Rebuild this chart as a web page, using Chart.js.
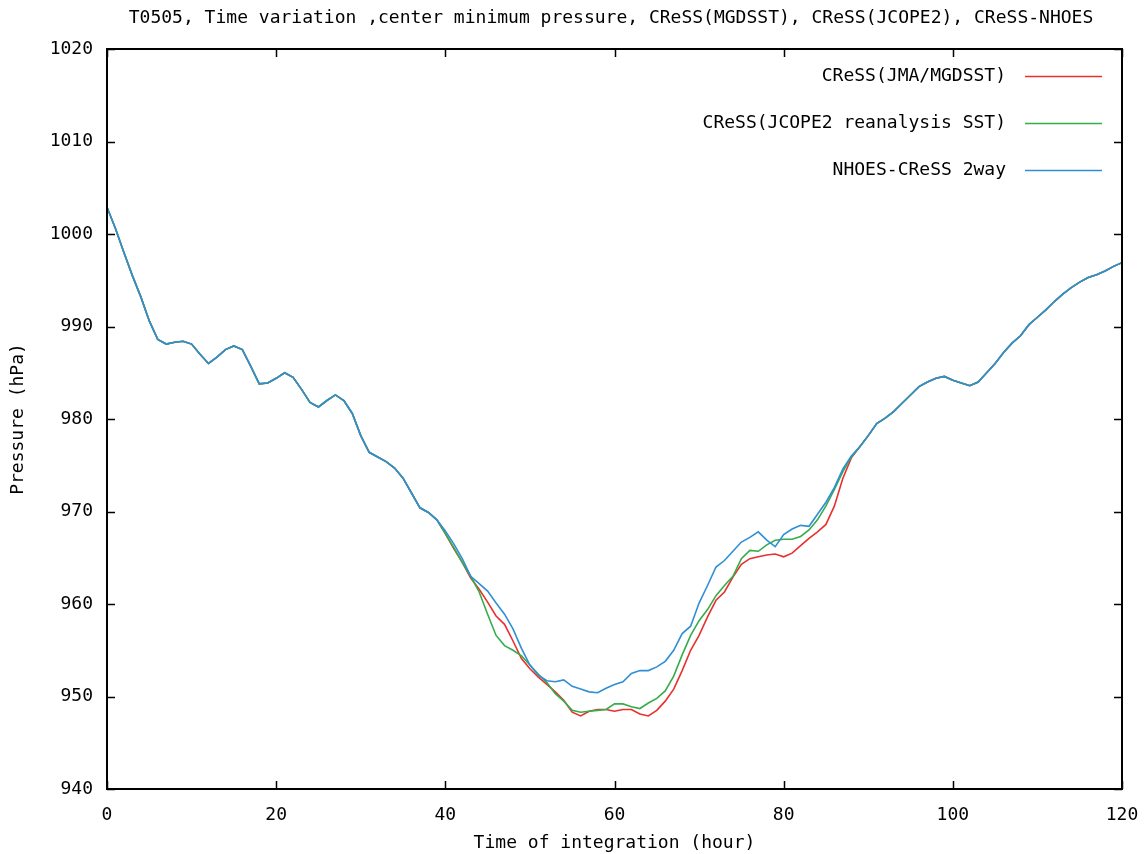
<!DOCTYPE html>
<html>
<head>
<meta charset="utf-8">
<script src="https://cdn.jsdelivr.net/npm/chart.js@4"></script>
<style>
  html, body { margin: 0; padding: 0; background: #fff; }
  #wrap { width: 1148px; height: 854px; }
</style>
</head>
<body>
<div id="wrap"><canvas id="chart"></canvas></div>
<script>
const chartTitle = 'T0505, Time variation ,center minimum pressure, CReSS(MGDSST), CReSS(JCOPE2), CReSS-NHOES';
const seriesLabels = ['CReSS(JMA/MGDSST)', 'CReSS(JCOPE2 reanalysis SST)', 'NHOES-CReSS 2way'];
const xTicks = [0, 20, 40, 60, 80, 100, 120];
const yTicks = [940, 950, 960, 970, 980, 990, 1000, 1010, 1020];

// hours 0..120
const hours = [];
for (let h = 0; h <= 120; h++) hours.push(h);

// shared part, hours 0..39 (all three runs overlap)
const common0 = [
  1002.9, 1000.6, 998.0, 995.5, 993.2, 990.6, 988.6, 988.1, 988.3, 988.4,
  988.1, 987.0, 986.0, 986.7, 987.5, 987.9, 987.5, 985.7, 983.8, 983.9,
  984.4, 985.0, 984.5, 983.2, 981.8, 981.3, 982.0, 982.6, 982.0, 980.6,
  978.2, 976.4, 975.9, 975.4, 974.7, 973.6, 972.0, 970.4, 969.9, 969.1
];
// shared part, hours 89..120
const common1 = [
  977.0, 978.2, 979.5, 980.1, 980.8, 981.7, 982.6, 983.5, 984.0, 984.4,
  984.6, 984.2, 983.9, 983.6, 984.0, 985.0, 986.0, 987.2, 988.2, 989.0,
  990.2, 991.0, 991.8, 992.7, 993.5, 994.2, 994.8, 995.3, 995.6, 996.0,
  996.5, 996.9
];

// hours 40..88
const mgdsstMid = [
  967.6, 966.0, 964.5, 962.8, 961.6, 960.2, 958.7, 957.8, 956.0, 954.1,
  953.0, 952.1, 951.3, 950.5, 949.6, 948.3, 947.9, 948.4, 948.6, 948.6,
  948.4, 948.6, 948.6, 948.1, 947.9, 948.5, 949.5, 950.8, 952.8, 955.0,
  956.6, 958.6, 960.4, 961.3, 962.9, 964.3, 964.9, 965.1, 965.3, 965.4,
  965.1, 965.5, 966.3, 967.1, 967.8, 968.6, 970.6, 973.6, 975.8
];
const jcopeMid = [
  967.6, 966.1, 964.5, 963.0, 961.3, 958.9, 956.6, 955.5, 955.0, 954.4,
  953.4, 952.4, 951.5, 950.3, 949.5, 948.5, 948.3, 948.4, 948.5, 948.6,
  949.2, 949.2, 948.9, 948.7, 949.3, 949.8, 950.6, 952.2, 954.5, 956.6,
  958.2, 959.4, 960.9, 962.0, 963.0, 964.9, 965.8, 965.7, 966.4, 966.9,
  967.0, 967.0, 967.3, 968.0, 969.1, 970.6, 972.4, 974.3, 975.9
];
const nhoesMid = [
  967.9, 966.5, 964.9, 963.0, 962.2, 961.4, 960.1, 958.9, 957.3, 955.2,
  953.4, 952.3, 951.7, 951.6, 951.8, 951.1, 950.8, 950.5, 950.4, 950.9,
  951.3, 951.6, 952.5, 952.8, 952.8, 953.2, 953.8, 955.0, 956.8, 957.6,
  960.1, 962.0, 964.0, 964.7, 965.7, 966.7, 967.2, 967.8, 966.9, 966.2,
  967.5, 968.1, 968.5, 968.4, 969.7, 971.0, 972.6, 974.6, 976.0
];

const mgdsst = common0.concat(mgdsstMid, common1);
const jcope = common0.concat(jcopeMid, common1);
const nhoes = common0.concat(nhoesMid, common1);

const colors = ['#e8302e', '#35ad4a', '#2f8fd5'];
const FONT = '"DejaVu Sans Mono", "Liberation Mono", monospace';

const toPoints = (vals) => vals.map((v, i) => ({ x: hours[i], y: v }));

// gnuplot style: frame with inward ticks, legend inside top right, title on top
const framePlugin = {
  id: 'frame',
  afterDatasetsDraw(chart) {
    const { ctx, chartArea: a, scales } = chart;
    ctx.save();
    ctx.strokeStyle = '#000';
    ctx.lineWidth = 1.5;
    ctx.beginPath();
    const tl = 8;
    xTicks.forEach(t => {
      const px = Math.round(scales.x.getPixelForValue(t)) + 0.5;
      ctx.moveTo(px, a.bottom); ctx.lineTo(px, a.bottom - tl);
      ctx.moveTo(px, a.top); ctx.lineTo(px, a.top + tl);
    });
    yTicks.forEach(t => {
      const py = Math.round(scales.y.getPixelForValue(t)) + 0.5;
      ctx.moveTo(a.left, py); ctx.lineTo(a.left + tl, py);
      ctx.moveTo(a.right, py); ctx.lineTo(a.right - tl, py);
    });
    ctx.stroke();
    ctx.lineWidth = 2;
    ctx.strokeRect(a.left, a.top, a.right - a.left, a.bottom - a.top);

    // legend
    ctx.font = '18px ' + FONT;
    ctx.textAlign = 'right';
    ctx.textBaseline = 'middle';
    chart.data.datasets.forEach((ds, i) => {
      const y = a.top + 27 + i * 47;
      ctx.fillStyle = '#000';
      ctx.fillText(ds.label, a.right - 116, y);
      ctx.strokeStyle = ds.borderColor;
      ctx.lineWidth = 1.6;
      ctx.beginPath();
      ctx.moveTo(a.right - 97, y + 0.5);
      ctx.lineTo(a.right - 20, y + 0.5);
      ctx.stroke();
    });

    // title
    ctx.fillStyle = '#000';
    ctx.textAlign = 'center';
    ctx.fillText(chartTitle, 611, 18);
    ctx.restore();
  }
};

const datasets = [mgdsst, jcope, nhoes].map((vals, i) => ({
  label: seriesLabels[i],
  data: toPoints(vals),
  borderColor: colors[i],
  backgroundColor: colors[i],
  borderWidth: 1.6,
  pointRadius: 0,
  tension: 0,
  order: 2 - i
}));

new Chart(document.getElementById('chart'), {
  type: 'line',
  data: { datasets },
  options: {
    responsive: true,
    maintainAspectRatio: false,
    animation: false,
    layout: { padding: { top: 49, right: 26, left: 0, bottom: 0 } },
    plugins: {
      legend: { display: false },
      title: { display: false },
      tooltip: { enabled: false }
    },
    scales: {
      x: {
        type: 'linear',
        min: 0,
        max: 120,
        afterFit: (s) => { s.height = 65; s.paddingLeft = 0; s.paddingRight = 0; },
        afterBuildTicks: (s) => { s.ticks = xTicks.map(v => ({ value: v })); },
        grid: { display: false, drawTicks: false },
        border: { display: false },
        ticks: { color: '#000', padding: 16, maxRotation: 0, font: { family: FONT, size: 18 } },
        title: {
          display: true,
          text: 'Time of integration (hour)',
          color: '#000',
          padding: { top: 13, bottom: 0 },
          font: { family: FONT, size: 18 }
        }
      },
      y: {
        min: 940,
        max: 1020,
        afterFit: (s) => { s.width = 107; s.paddingTop = 0; s.paddingBottom = 0; },
        afterBuildTicks: (s) => { s.ticks = yTicks.map(v => ({ value: v })); },
        grid: { display: false, drawTicks: false },
        border: { display: false },
        ticks: {
          color: '#000',
          padding: 14,
          font: { family: FONT, size: 18 },
          callback: (v) => String(v)
        },
        title: {
          display: true,
          text: 'Pressure (hPa)',
          color: '#000',
          padding: { top: 8, bottom: 0 },
          font: { family: FONT, size: 18 }
        }
      }
    }
  },
  plugins: [framePlugin]
});
</script>
</body>
</html>
